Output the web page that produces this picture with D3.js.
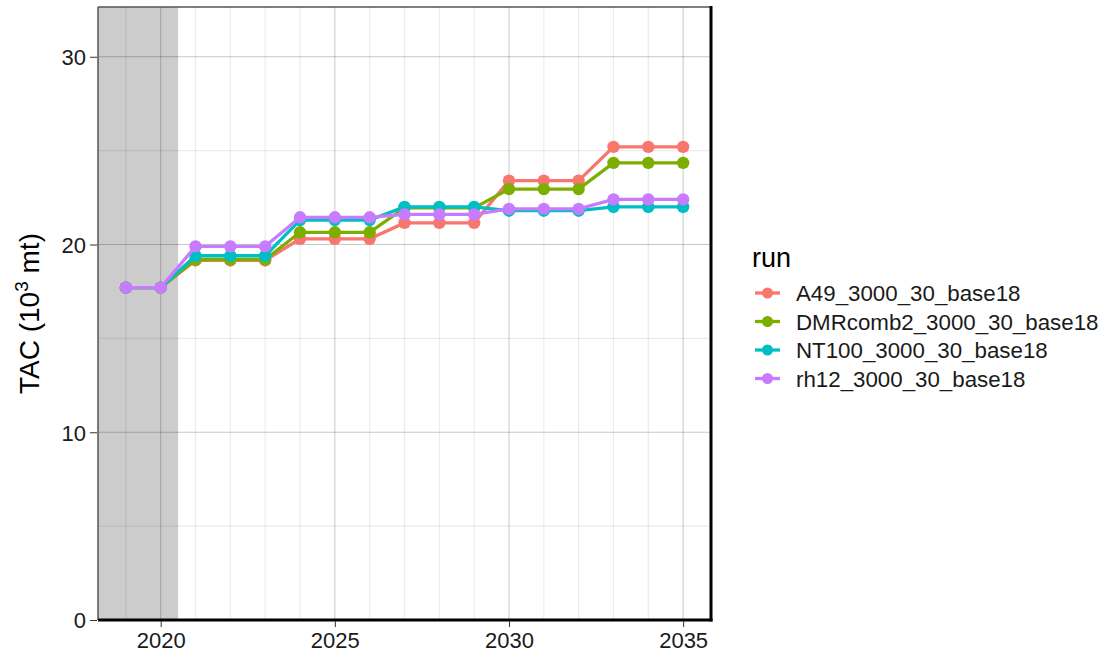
<!DOCTYPE html>
<html>
<head>
<meta charset="utf-8">
<script src="https://cdn.jsdelivr.net/npm/d3@7"></script>
<style>
  body { margin: 0; background: #fff; }
  text { font-family: "Liberation Sans", Arial, sans-serif; }
  .grid-major line { stroke: #000; stroke-opacity: 0.22; stroke-width: 1; }
  .grid-minor line { stroke: #000; stroke-opacity: 0.08; stroke-width: 1.2; }
  .axis line { stroke: #333; }
</style>
</head>
<body>
<div id="chart"></div>
<script type="text/javascript">
// TAC projections by run, all runs share 2019-2020 history (shaded)

var years = [2019, 2020, 2021, 2022, 2023, 2024, 2025, 2026, 2027, 2028, 2029, 2030, 2031, 2032, 2033, 2034, 2035];
var runs = ["A49_3000_30_base18", "DMRcomb2_3000_30_base18", "NT100_3000_30_base18", "rh12_3000_30_base18"];
var colors = ["#F8766D", "#7CAE00", "#00BFC4", "#C77CFF"];

var tacA49  = [17.7, 17.7, 19.15, 19.15, 19.15, 20.3, 20.3, 20.3, 21.15, 21.15, 21.15, 23.4, 23.4, 23.4, 25.2, 25.2, 25.2];
var tacDMR  = [17.7, 17.7, 19.2, 19.2, 19.2, 20.65, 20.65, 20.65, 21.95, 21.95, 21.95, 22.95, 22.95, 22.95, 24.35, 24.35, 24.35];
var tacNT   = [17.7, 17.7, 19.4, 19.4, 19.4, 21.3, 21.3, 21.3, 22.0, 22.0, 22.0, 21.8, 21.8, 21.8, 22.0, 22.0, 22.0];
var tacRh12 = [17.7, 17.7, 19.9, 19.9, 19.9, 21.45, 21.45, 21.45, 21.6, 21.6, 21.6, 21.9, 21.9, 21.9, 22.4, 22.4, 22.4];

var yTicks = [0, 10, 20, 30];
var yMinor = [5, 15, 25];
var xTicks = [2020, 2025, 2030, 2035];
var histEnd = 2020.5;

var series = [tacA49, tacDMR, tacNT, tacRh12].map(function(vals, i){
  return {run: runs[i], color: colors[i], values: vals.map(function(v, j){ return {year: years[j], tac: v}; })};
});

var width = 1111, height = 659;
var pLeft = 98, pRight = 711, pTop = 7, pBottom = 620;

var svg = d3.select("#chart").append("svg")
  .attr("width", width).attr("height", height);

var x = d3.scaleLinear().domain([2018.2, 2035.8]).range([pLeft, pRight]);
var y = d3.scaleLinear().domain([0, 32.65]).range([pBottom, pTop]);

// history shading
svg.append("rect")
  .attr("x", pLeft).attr("y", pTop)
  .attr("width", x(histEnd) - pLeft).attr("height", pBottom - pTop)
  .attr("fill", "#cccccc");

// grid
var gMinor = svg.append("g").attr("class", "grid-minor");
gMinor.selectAll("line.h").data(yMinor).enter().append("line").attr("class", "h")
  .attr("x1", pLeft).attr("x2", pRight)
  .attr("y1", function(d){return y(d);}).attr("y2", function(d){return y(d);});
gMinor.selectAll("line.v").data(years.filter(function(d){return xTicks.indexOf(d) < 0;})).enter().append("line").attr("class", "v")
  .attr("y1", pTop).attr("y2", pBottom)
  .attr("x1", function(d){return x(d);}).attr("x2", function(d){return x(d);});

var gMajor = svg.append("g").attr("class", "grid-major");
gMajor.selectAll("line.h").data(yTicks).enter().append("line").attr("class", "h")
  .attr("x1", pLeft).attr("x2", pRight)
  .attr("y1", function(d){return y(d);}).attr("y2", function(d){return y(d);});
gMajor.selectAll("line.v").data(xTicks).enter().append("line").attr("class", "v")
  .attr("y1", pTop).attr("y2", pBottom)
  .attr("x1", function(d){return x(d);}).attr("x2", function(d){return x(d);});

// lines and points
var line = d3.line()
  .x(function(d){return x(d.year);})
  .y(function(d){return y(d.tac);});

var runG = svg.append("g").selectAll("g").data(series).enter().append("g");
runG.append("path")
  .attr("d", function(d){return line(d.values);})
  .attr("fill", "none")
  .attr("stroke", function(d){return d.color;})
  .attr("stroke-width", 3.3);
runG.selectAll("circle").data(function(d){return d.values.map(function(v){return {year: v.year, tac: v.tac, color: d.color};});})
  .enter().append("circle")
  .attr("cx", function(d){return x(d.year);})
  .attr("cy", function(d){return y(d.tac);})
  .attr("r", 6.2)
  .attr("fill", function(d){return d.color;});

// panel border: thin top/left, heavy right/bottom
svg.append("line").attr("x1", pLeft).attr("x2", pRight).attr("y1", pTop).attr("y2", pTop)
  .attr("stroke", "#555").attr("stroke-width", 1.5);
svg.append("line").attr("x1", pLeft).attr("x2", pLeft).attr("y1", pTop).attr("y2", pBottom)
  .attr("stroke", "#555").attr("stroke-width", 1.5);
svg.append("line").attr("x1", pRight).attr("x2", pRight).attr("y1", pTop - 1).attr("y2", pBottom + 1.5)
  .attr("stroke", "#000").attr("stroke-width", 3);
svg.append("line").attr("x1", pLeft).attr("x2", pRight + 1.5).attr("y1", pBottom).attr("y2", pBottom)
  .attr("stroke", "#000").attr("stroke-width", 3);

// axes
var xAxis = svg.append("g").attr("class", "axis")
  .attr("transform", "translate(0," + (pBottom + 1) + ")")
  .call(d3.axisBottom(x).tickValues(xTicks).tickFormat(d3.format("d")).tickSize(6).tickPadding(5));
xAxis.select(".domain").remove();

var yAxis = svg.append("g").attr("class", "axis")
  .attr("transform", "translate(" + (pLeft - 1) + ",0)")
  .call(d3.axisLeft(y).tickValues(yTicks).tickSize(7).tickPadding(4));
yAxis.select(".domain").remove();

svg.selectAll(".axis").attr("font-family", null).attr("font-size", null);
svg.selectAll(".axis text").attr("font-size", 22).attr("fill", "#1a1a1a");
yAxis.selectAll("text").attr("dy", "0.36em");

// y title
var yTitle = svg.append("text")
  .attr("transform", "translate(39," + ((pTop + pBottom) / 2) + ") rotate(-90)")
  .attr("text-anchor", "middle")
  .attr("font-size", 28)
  .attr("fill", "#000");
yTitle.append("tspan").text("TAC (10");
yTitle.append("tspan").attr("font-size", 19).attr("dy", -11).text("3");
yTitle.append("tspan").attr("dy", 11).text(" mt)");

// legend
var legend = svg.append("g").attr("transform", "translate(752,0)");
legend.append("text").attr("x", 0).attr("y", 267)
  .attr("font-size", 27).attr("fill", "#000").text("run");

var item = legend.selectAll("g.item").data(series).enter().append("g").attr("class", "item")
  .attr("transform", function(d, i){return "translate(0," + (293 + i * 28.5) + ")";});
item.append("line").attr("x1", 3).attr("x2", 28).attr("y1", 0).attr("y2", 0)
  .attr("stroke", function(d){return d.color;}).attr("stroke-width", 3.3);
item.append("circle").attr("cx", 15.5).attr("cy", 0).attr("r", 5.5)
  .attr("fill", function(d){return d.color;});
item.append("text").attr("x", 44).attr("y", 0).attr("dy", "0.36em")
  .attr("font-size", 22.3).attr("fill", "#1a1a1a")
  .text(function(d){return d.run;});
</script>
</body>
</html>
